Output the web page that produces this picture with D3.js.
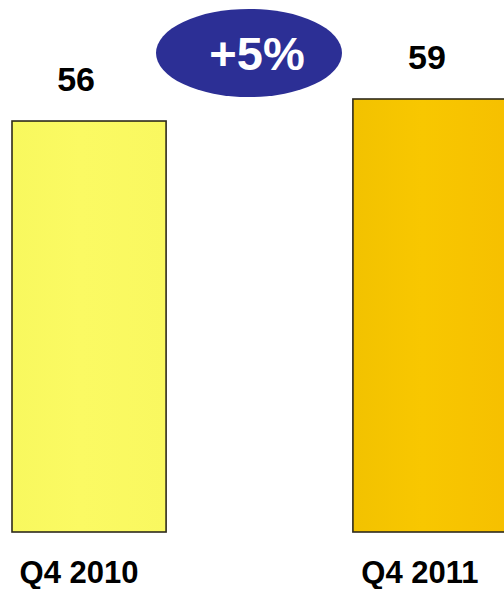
<!DOCTYPE html>
<html>
<head>
<meta charset="utf-8">
<script src="https://cdn.jsdelivr.net/npm/d3@7/dist/d3.min.js"></script>
<style>
  html, body { margin: 0; padding: 0; background: #fff; }
  svg { display: block; }
</style>
</head>
<body>
<script>
// Quarterly totals
const categories = ["Q4 2010", "Q4 2011"];
const values = [56, 59];

const W = 504, H = 589;
const svg = d3.select("body").append("svg").attr("width", W).attr("height", H);

const x = d3.scaleBand().domain(categories).range([12, 507]).paddingInner(0.548).paddingOuter(0);
const y = d3.scaleLinear().domain([0, 59]).range([532, 99]);

// light shading on the bars
const defs = svg.append("defs");
const grads = [
  ["#F8F85E", "#FBFA63", "#F9F860"],
  ["#F2C200", "#F8C700", "#F6C000"]
];
grads.forEach((g, i) => {
  const lg = defs.append("linearGradient").attr("id", "g" + i)
    .attr("x1", "0%").attr("x2", "100%").attr("y1", "0%").attr("y2", "0%");
  lg.append("stop").attr("offset", "0%").attr("stop-color", g[0]);
  lg.append("stop").attr("offset", "45%").attr("stop-color", g[1]);
  lg.append("stop").attr("offset", "100%").attr("stop-color", g[2]);
});

svg.selectAll("rect.bar").data(values).join("rect")
  .attr("class", "bar")
  .attr("x", (d, i) => x(categories[i]))
  .attr("y", d => y(d))
  .attr("width", x.bandwidth())
  .attr("height", d => y(0) - y(d))
  .attr("fill", (d, i) => `url(#g${i})`)
  .attr("stroke", "#2e2a1c")
  .attr("stroke-width", 1.6);

const font = "'Liberation Sans', Arial, sans-serif";
const valueOffsets = [-13, -3];

svg.selectAll("text.val").data(values).join("text")
  .attr("class", "val")
  .attr("x", (d, i) => x(categories[i]) + x.bandwidth() / 2 + valueOffsets[i])
  .attr("y", d => y(d) - 30)
  .attr("text-anchor", "middle")
  .attr("font-family", font).attr("font-weight", "bold").attr("font-size", 34)
  .attr("fill", "#000")
  .text(d => d);

svg.selectAll("text.cat").data(categories).join("text")
  .attr("class", "cat")
  .attr("x", d => x(d) + x.bandwidth() / 2 - 10)
  .attr("y", 583)
  .attr("text-anchor", "middle")
  .attr("font-family", font).attr("font-weight", "bold").attr("font-size", 31)
  .attr("fill", "#000")
  .text(d => d);

// growth badge
const growth = (values[1] - values[0]) / values[0];
const badge = svg.append("g").attr("transform", "translate(249,53)");
badge.append("ellipse").attr("rx", 93).attr("ry", 44).attr("fill", "#2C2F95");
badge.append("text")
  .attr("x", 8).attr("y", 17)
  .attr("text-anchor", "middle")
  .attr("font-family", font).attr("font-weight", "bold").attr("font-size", 47)
  .attr("fill", "#fff")
  .text("+" + d3.format(".0%")(growth));
</script>
</body>
</html>
